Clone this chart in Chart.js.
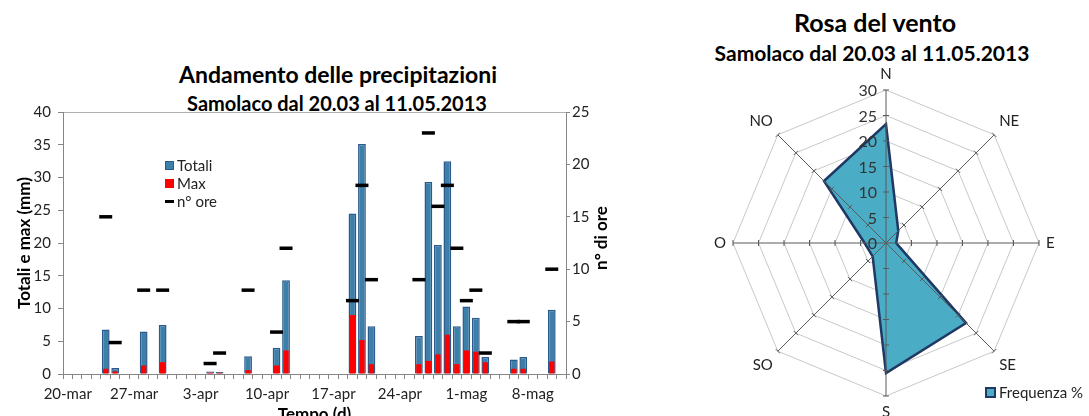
<!DOCTYPE html>
<html>
<head>
<meta charset="utf-8">
<script src="https://cdn.jsdelivr.net/npm/chart.js@4.4.1/dist/chart.umd.min.js"></script>
<style>
  html, body { margin: 0; padding: 0; background: #fff; }
  body { width: 1089px; height: 416px; overflow: hidden; position: relative; font-family: Lato, "Open Sans", sans-serif; color: #000; }
  .abs { position: absolute; }
  .title { font-weight: bold; text-align: center; white-space: nowrap; }
  .leg { font-size: 14px; line-height: 18px; color: #222; }
  .leg div { display: flex; align-items: center; height: 18px; }
  .sw { display: inline-block; width: 9px; height: 9px; margin-right: 3px; box-sizing: border-box; }
</style>
</head>
<body>

<div class="abs title" style="left:0; width:676px; top:60px; font-size:23px; line-height:28px;">Andamento delle precipitazioni</div>
<div class="abs title" style="left:0; width:674px; top:91px; font-size:20px; line-height:24px;">Samolaco dal 20.03 al 11.05.2013</div>

<div class="abs" style="left:0; top:0; width:640px; height:416px;">
  <canvas id="rainChart"></canvas>
</div>

<div class="abs title" style="left:551px; top:228px; width:100px; height:20px; font-size:17px; line-height:20px; transform:rotate(-90deg);">n° di ore</div>

<div class="abs leg" style="left:165px; top:156px; font-size:15px;">
  <div><span class="sw" style="background:#3c7fa9; border:1.5px solid #2b5a8c;"></span>Totali</div>
  <div><span class="sw" style="background:#ff0000;"></span>Max</div>
  <div><span class="sw" style="height:3px; background:#000;"></span>n° ore</div>
</div>

<div class="abs title" style="left:675px; width:400px; top:7px; font-size:25px; line-height:30px;">Rosa del vento</div>
<div class="abs title" style="left:672px; width:400px; top:40px; font-size:21px; line-height:26px;">Samolaco dal 20.03 al 11.05.2013</div>

<div class="abs" style="left:707px; top:65px; width:356px; height:356px;">
  <canvas id="windChart"></canvas>
</div>

<div class="abs leg" style="left:985px; top:383px; font-size:15px;">
  <div><span class="sw" style="width:11px; height:11px; background:#4bacc6; border:2px solid #1f3864;"></span>Frequenza %</div>
</div>

<script>
// giorni dal 20 marzo all'11 maggio 2013
const days = [
  '20-mar', '21-mar', '22-mar', '23-mar', '24-mar', '25-mar', '26-mar', '27-mar', '28-mar', '29-mar', '30-mar', '31-mar',
  '1-apr', '2-apr', '3-apr', '4-apr', '5-apr', '6-apr', '7-apr', '8-apr', '9-apr', '10-apr',
  '11-apr', '12-apr', '13-apr', '14-apr', '15-apr', '16-apr', '17-apr', '18-apr', '19-apr', '20-apr',
  '21-apr', '22-apr', '23-apr', '24-apr', '25-apr', '26-apr', '27-apr', '28-apr', '29-apr', '30-apr',
  '1-mag', '2-mag', '3-mag', '4-mag', '5-mag', '6-mag', '7-mag', '8-mag', '9-mag', '10-mag', '11-mag'
];

// precipitazione totale giornaliera (mm)
const totali = [
  null, null, null, null, 6.8, 0.9, null, null, 6.5, null, 7.5, null,
  null, null, null, 0.4, 0.3, null, null, 2.7, null, null,
  4.0, 14.3, null, null, null, null, null, null, 24.5, 35.1,
  7.3, null, null, null, null, 5.8, 29.3, 19.7, 32.5, 7.3,
  10.3, 8.6, 2.6, null, null, 2.2, 2.6, null, null, 9.8, null
];

// massimo orario (mm)
const massimi = [
  null, null, null, null, 0.8, 0.4, null, null, 1.3, null, 1.8, null,
  null, null, null, 0.2, 0.2, null, null, 0.6, null, null,
  1.3, 3.6, null, null, null, null, null, null, 9.0, 5.2,
  1.5, null, null, null, null, 1.5, 2.0, 3.0, 6.0, 1.5,
  3.6, 3.4, 1.8, null, null, 0.8, 0.8, null, null, 1.9, null
];

// numero di ore di pioggia
const ore = [
  null, null, null, null, 15, 3, null, null, 8, null, 8, null,
  null, null, null, 1, 2, null, null, 8, null, null,
  4, 12, null, null, null, null, null, null, 7, 18,
  9, null, null, null, null, 9, 23, 16, 18, 12,
  7, 8, 2, null, null, 5, 5, null, null, 10, null
];

// rosa del vento
const directions = ['N', 'NE', 'E', 'SE', 'S', 'SO', 'O', 'NO'];
const frequenza = [23.3, 3.4, 2.0, 22.2, 25.5, 3.7, 4.2, 17.2];

const axisGrey = '#868686';
const tickFont = { family: 'Lato', size: 15 };
const titleFont = { family: 'Lato', size: 17, weight: 'bold' };

new Chart(document.getElementById('rainChart'), {
  data: {
    labels: days,
    datasets: [
      {
        type: 'line',
        label: 'n° ore',
        data: ore,
        yAxisID: 'y2',
        showLine: false,
        pointStyle: 'line',
        pointRadius: 6.5,
        pointBorderWidth: 3.5,
        borderColor: '#000',
        order: 0
      },
      {
        type: 'bar',
        label: 'Max',
        data: massimi,
        yAxisID: 'y',
        backgroundColor: '#ff0000',
        borderWidth: 0,
        grouped: false,
        barPercentage: 0.56,
        categoryPercentage: 1,
        order: 1
      },
      {
        type: 'bar',
        label: 'Totali',
        data: totali,
        yAxisID: 'y',
        backgroundColor: '#3c7fa9',
        borderColor: '#2b5a8c',
        borderWidth: 1.5,
        grouped: false,
        barPercentage: 0.82,
        categoryPercentage: 1,
        order: 2
      }
    ]
  },
  options: {
    responsive: true,
    maintainAspectRatio: false,
    animation: false,
    layout: { padding: { top: 112, right: 24, bottom: 0, left: 0 } },
    plugins: { legend: { display: false }, tooltip: { enabled: false } },
    scales: {
      x: {
        offset: true,
        afterFit: s => { s.height = 42; },
        grid: { offset: true, drawOnChartArea: false, tickLength: 5, color: axisGrey },
        border: { color: axisGrey },
        ticks: {
          autoSkip: false,
          maxRotation: 0,
          minRotation: 0,
          padding: 6,
          color: '#222',
          font: tickFont,
          callback: function (val, i) { return i % 7 === 0 ? this.getLabelForValue(val) : ''; }
        },
        title: { display: true, text: 'Tempo (d)', font: titleFont, color: '#000', padding: { top: 0, bottom: -9 } }
      },
      y: {
        position: 'left',
        min: 0,
        max: 40,
        afterFit: s => { s.width = 63; },
        grid: {
          color: c => (c.tick && c.tick.value === 40 ? '#b0b0b0' : 'transparent'),
          tickColor: axisGrey,
          tickLength: 5
        },
        border: { color: axisGrey },
        ticks: { stepSize: 5, padding: 7, color: '#222', font: tickFont },
        title: { display: true, text: 'Totali e max (mm)', font: titleFont, color: '#000', padding: { top: 14, bottom: 0 } }
      },
      y2: {
        position: 'right',
        min: 0,
        max: 25,
        afterFit: s => { s.width = 50; },
        grid: { drawOnChartArea: false, color: axisGrey, tickLength: 4 },
        border: { color: axisGrey },
        ticks: { stepSize: 5, padding: 2, color: '#222', font: tickFont }
      }
    }
  }
});

// assi sopra il riempimento, etichette dei valori accanto all'asse N
const windAxes = {
  id: 'windAxes',
  afterDatasetsDraw(chart) {
    const s = chart.scales.r;
    const ctx = chart.ctx;
    ctx.save();
    ctx.strokeStyle = '#5a5a5a';
    ctx.lineWidth = 1;
    for (let i = 0; i < directions.length; i++) {
      const p = s.getPointPosition(i, s.drawingArea);
      ctx.beginPath();
      ctx.moveTo(s.xCenter, s.yCenter);
      ctx.lineTo(p.x, p.y);
      ctx.stroke();
      const ang = s.getIndexAngle(i);
      const nx = Math.cos(ang), ny = Math.sin(ang);
      s.ticks.forEach(t => {
        if (t.value === 0) return;
        const q = s.getPointPosition(i, s.getDistanceFromCenterForValue(t.value));
        ctx.beginPath();
        ctx.moveTo(q.x - nx * 3, q.y - ny * 3);
        ctx.lineTo(q.x + nx * 3, q.y + ny * 3);
        ctx.stroke();
      });
    }
    ctx.font = '16px Lato';
    ctx.fillStyle = '#333';
    ctx.textAlign = 'right';
    ctx.textBaseline = 'middle';
    s.ticks.forEach(t => {
      const d = s.getDistanceFromCenterForValue(t.value);
      ctx.fillText(t.label, s.xCenter - 9, s.yCenter - d + 1);
    });
    ctx.restore();
  }
};

new Chart(document.getElementById('windChart'), {
  type: 'radar',
  data: {
    labels: directions,
    datasets: [{
      label: 'Frequenza %',
      data: frequenza,
      backgroundColor: '#4bacc6',
      borderColor: '#1f3864',
      borderWidth: 2.5,
      pointRadius: 0,
      fill: true
    }]
  },
  options: {
    responsive: true,
    maintainAspectRatio: false,
    animation: false,
    plugins: { legend: { display: false }, tooltip: { enabled: false } },
    scales: {
      r: {
        min: 0,
        max: 30,
        ticks: { stepSize: 5, display: false },
        grid: { color: '#c8c8c8', lineWidth: 1 },
        angleLines: { display: false },
        pointLabels: { font: { family: 'Lato', size: 15 }, color: '#222', padding: 7 }
      }
    }
  },
  plugins: [windAxes]
});
</script>
</body>
</html>
